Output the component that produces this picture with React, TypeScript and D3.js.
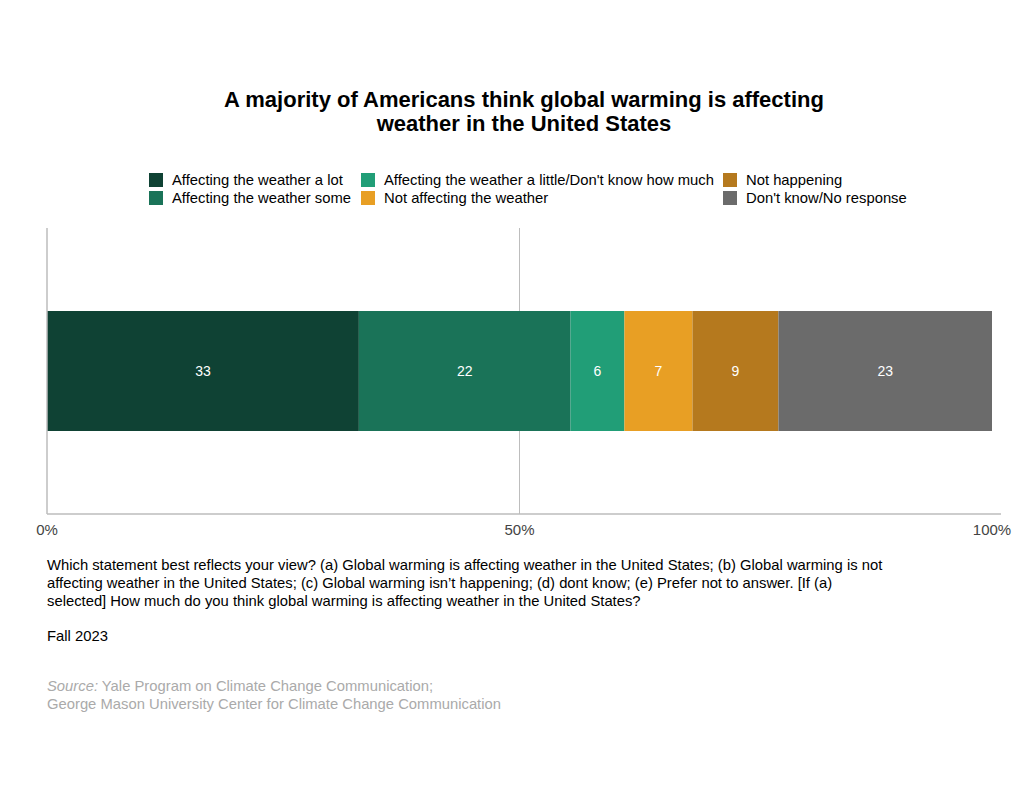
import React from "react";
import * as d3 from "d3";

const categories = [
  "Affecting the weather a lot",
  "Affecting the weather some",
  "Affecting the weather a little/Don't know how much",
  "Not affecting the weather",
  "Not happening",
  "Don't know/No response",
];
const values = [33.0, 22.4, 5.7, 7.2, 9.1, 22.6];
const labels = ["33", "22", "6", "7", "9", "23"];
const colors = ["#0f4234", "#1a7358", "#219e77", "#e89f24", "#b5791e", "#6b6b6b"];
const tickValues = [0, 50, 100];
const tickLabels = ["0%", "50%", "100%"];

const title = [
  "A majority of Americans think global warming is affecting",
  "weather in the United States",
];
const question = [
  "Which statement best reflects your view? (a) Global warming is affecting weather in the United States; (b) Global warming is not",
  "affecting weather in the United States; (c) Global warming isn\u2019t happening; (d) dont know; (e) Prefer not to answer. [If (a)",
  "selected] How much do you think global warming is affecting weather in the United States?",
];

const legendOrder = [
  [0, 0],
  [0, 1],
  [1, 0],
  [1, 1],
  [2, 0],
  [2, 1],
];
const legendColX = [149, 361, 723];

export default function App() {
  const W = 1024;
  const H = 801;
  const x = d3.scaleLinear().domain([0, 100]).range([47, 992]);
  const y0 = 228;
  const yAxis = 514;
  const barTop = 311;
  const barH = 120;
  const font = "'Liberation Sans', Arial, sans-serif";
  const fs = 14.8;

  const cum: number[] = [];
  values.reduce((acc, v) => {
    cum.push(acc);
    return acc + v;
  }, 0);

  return (
    <svg
      width={W}
      height={H}
      style={{ position: "absolute", left: 0, top: 0, background: "#fff" }}
      fontFamily={font}
    >
      <rect width={W} height={H} fill="#fff" />
      {title.map((t, i) => (
        <text
          key={i}
          x={524}
          y={107 + i * 24}
          textAnchor="middle"
          fontSize={22}
          fontWeight="bold"
          fill="#000"
        >
          {t}
        </text>
      ))}
      {categories.map((c, i) => {
        const [col, row] = legendOrder[i];
        const lx = legendColX[col];
        const ly = 173 + row * 18;
        return (
          <g key={c}>
            <rect x={lx} y={ly} width={14} height={14} fill={colors[i]} />
            <text x={lx + 23} y={ly + 12} fontSize={fs} fill="#000">
              {c}
            </text>
          </g>
        );
      })}
      <line x1={x(50)} x2={x(50)} y1={y0} y2={yAxis} stroke="#bdbdbd" strokeWidth={1} />
      {values.map((v, i) => (
        <g key={i}>
          <rect
            x={x(cum[i])}
            y={barTop}
            width={x(cum[i] + v) - x(cum[i])}
            height={barH}
            fill={colors[i]}
          />
          <text
            x={(x(cum[i]) + x(cum[i] + v)) / 2}
            y={barTop + barH / 2 + 5}
            textAnchor="middle"
            fontSize={14}
            fill="#fff"
          >
            {labels[i]}
          </text>
        </g>
      ))}
      <line x1={47} x2={47} y1={y0} y2={yAxis} stroke="#bdbdbd" strokeWidth={1.5} />
      <line x1={47} x2={1001} y1={yAxis} y2={yAxis} stroke="#bdbdbd" strokeWidth={1.5} />
      {tickValues.map((t, i) => (
        <text key={t} x={x(t)} y={535} textAnchor="middle" fontSize={15} fill="#444">
          {tickLabels[i]}
        </text>
      ))}
      {question.map((q, i) => (
        <text key={i} x={47} y={570 + i * 18} fontSize={fs} fill="#000">
          {q}
        </text>
      ))}
      <text x={47} y={641} fontSize={fs} fill="#000">
        Fall 2023
      </text>
      <text x={47} y={691} fontSize={fs} fill="#aaa">
        <tspan fontStyle="italic">Source:</tspan> Yale Program on Climate Change Communication;
      </text>
      <text x={47} y={709} fontSize={fs} fill="#aaa">
        George Mason University Center for Climate Change Communication
      </text>
    </svg>
  );
}
